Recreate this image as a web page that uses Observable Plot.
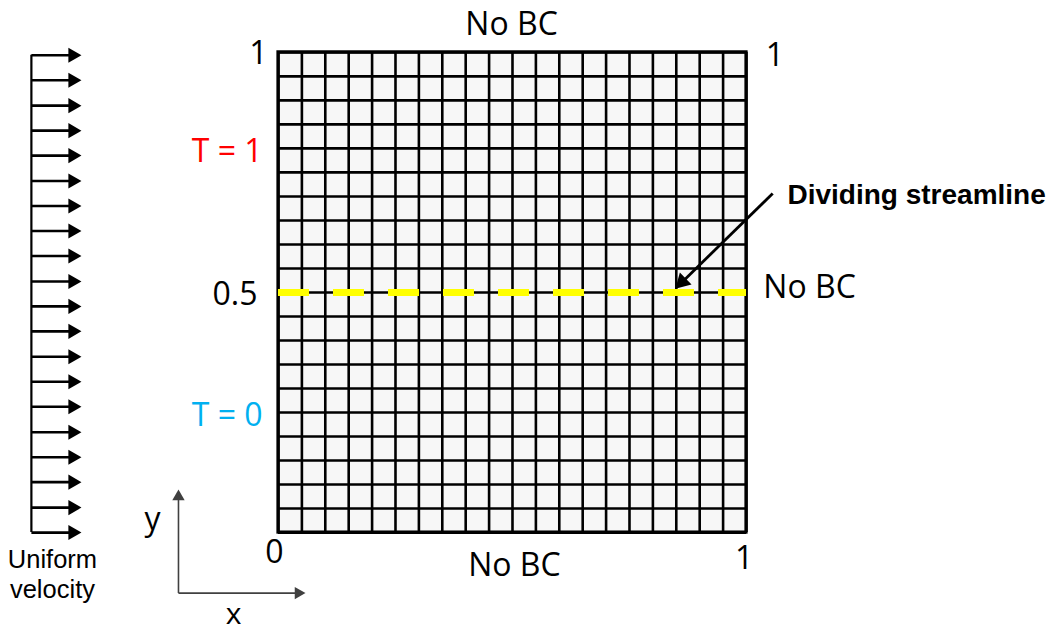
<!DOCTYPE html>
<html>
<head>
<meta charset="utf-8">
<script src="https://cdn.jsdelivr.net/npm/d3@7"></script>
<script src="https://cdn.jsdelivr.net/npm/@observablehq/plot@0.6"></script>
<style>
  html, body { margin: 0; padding: 0; background: #ffffff; overflow: hidden; }
  #chart svg { display: block; }
</style>
</head>
<body>
<div id="chart"></div>
<script>
// ---------- data ----------
const W = 1053, H = 631;
const xDomain = [-0.594, 1.656];
const yDomain = [-0.206, 1.108];

// 20 x 20 computational grid lines (fractions of the unit square)
const gridTicks = [0, 0.05, 0.1, 0.15, 0.2, 0.25, 0.3, 0.35, 0.4, 0.45, 0.5,
                   0.55, 0.6, 0.65, 0.7, 0.75, 0.8, 0.85, 0.9, 0.95, 1];
const domainBox = [{x1: 0, x2: 1, y1: 0, y2: 1}];
const streamlineY = [0.5];

// uniform inflow velocity arrows (y positions, x start / tip)
const velocityY = [0.994, 0.942, 0.889, 0.837, 0.785, 0.732, 0.680, 0.628, 0.576, 0.523,
                   0.471, 0.419, 0.366, 0.314, 0.262, 0.209, 0.157, 0.105, 0.052, 0.000];
const velocityX = [-0.528, -0.421];

// annotation arrow (start -> tip)
const calloutArrow = [{x1: 1.056, y1: 0.706, x2: 0.848, y2: 0.508}];
// coordinate axes arrows
const axisArrows = [
  {x1: -0.2137, y1: -0.126, x2: -0.2137, y2: 0.0896},
  {x1: -0.2137, y1: -0.126, x2: 0.0577, y2: -0.126}
];

// labels
const centerLabels = [
  {text: "No BC", x: 0.498, y: 1.0567},
  {text: "No BC", x: 0.504, y: -0.0683},
  {text: "0", x: -0.0085, y: -0.0412},
  {text: "1", x: 0.995, y: -0.0537},
  {text: "y", x: -0.269, y: 0.0275}
];
const axisXLabel = [{text: "x", x: -0.096, y: -0.1696}];
const startLabels = [
  {text: "No BC", x: 1.036, y: 0.5088},
  {text: "1", x: 1.041, y: 0.992}
];
const endLabels = [
  {text: "1", x: -0.0235, y: 0.9963, color: "#000000"},
  {text: "T = 1", x: -0.034, y: 0.794, color: "#ff0000"},
  {text: "0.5", x: -0.045, y: 0.496, color: "#000000"},
  {text: "T = 0", x: -0.034, y: 0.244, color: "#00b0f0"}
];
const velocityLabel = [
  {text: "Uniform", x: -0.483, y: -0.0569},
  {text: "velocity", x: -0.483, y: -0.1194}
];
const calloutLabel = [{text: "Dividing streamline", x: 1.0876, y: 0.7033}];

// ---------- helpers ----------
const kx = W / (xDomain[1] - xDomain[0]);
const ky = H / (yDomain[1] - yDomain[0]);
function headGeom(list, r) {
  const t = Math.sqrt(Math.PI * r * r / (3 * Math.sqrt(3)));
  const tip = 2 * t;
  return list.map(a => {
    const px = (a.x2 - a.x1) * kx, py = -(a.y2 - a.y1) * ky;
    const L = Math.hypot(px, py), ux = px / L, uy = py / L;
    return {
      ...a,
      cx: a.x2 - ux * tip / kx,
      cy: a.y2 + uy * tip / ky,
      angle: Math.atan2(py, px) * 180 / Math.PI + 90
    };
  });
}
function arrowMarks(list, {r, color, width}) {
  const g = headGeom(list, r);
  return [
    Plot.link(g, {x1: "x1", y1: "y1", x2: "cx", y2: "cy", stroke: color, strokeWidth: width}),
    Plot.dot(g, {x: "cx", y: "cy", symbol: "triangle", r, rotate: "angle", fill: color, stroke: null})
  ];
}
const velocityArrows = velocityY.map(y => ({x1: velocityX[0], y1: y, x2: velocityX[1], y2: y}));

const calibri = "'Open Sans', Lato, sans-serif";
const arial = "'Liberation Sans', Arial, sans-serif";

const chart = Plot.plot({
  width: W,
  height: H,
  margin: 0,
  x: {domain: xDomain, axis: null},
  y: {domain: yDomain, axis: null},
  style: {background: "#ffffff", overflow: "visible"},
  marks: [
    Plot.rect(domainBox, {x1: "x1", x2: "x2", y1: "y1", y2: "y2", fill: "#f7f7f7"}),
    Plot.ruleX(gridTicks, {y1: 0, y2: 1, stroke: "#000000", strokeWidth: 2.6}),
    Plot.ruleY(gridTicks, {x1: 0, x2: 1, stroke: "#000000", strokeWidth: 2.6}),
    Plot.rect(domainBox, {x1: "x1", x2: "x2", y1: "y1", y2: "y2", fill: "none", stroke: "#000000", strokeWidth: 3.2}),
    Plot.ruleY(streamlineY, {x1: 0, x2: 1, stroke: "#ffff00", strokeWidth: 7, strokeDasharray: "31 24"}),

    // inflow arrows
    Plot.ruleX([velocityX[0]], {y1: velocityY[velocityY.length - 1], y2: velocityY[0], stroke: "#000000", strokeWidth: 2.2}),
    ...arrowMarks(velocityArrows, {r: 5.6, color: "#000000", width: 2.6}),

    // callout arrow
    ...arrowMarks(calloutArrow, {r: 6.2, color: "#000000", width: 2.8}),

    // coordinate axes
    ...arrowMarks(axisArrows, {r: 4.6, color: "#404040", width: 1.6}),

    // labels
    Plot.text(centerLabels, {x: "x", y: "y", text: "text", textAnchor: "middle", fill: "#000000", fontSize: 32, fontFamily: calibri}),
    Plot.text(axisXLabel, {x: "x", y: "y", text: "text", textAnchor: "middle", fill: "#000000", fontSize: 30, fontFamily: calibri}),
    Plot.text(startLabels, {x: "x", y: "y", text: "text", textAnchor: "start", fill: "#000000", fontSize: 32, fontFamily: calibri}),
    Plot.text(endLabels, {x: "x", y: "y", text: "text", textAnchor: "end", fill: "color", fontSize: 32, fontFamily: calibri}),
    Plot.text(velocityLabel, {x: "x", y: "y", text: "text", textAnchor: "middle", fill: "#000000", fontSize: 25.5, fontFamily: arial}),
    Plot.text(calloutLabel, {x: "x", y: "y", text: "text", textAnchor: "start", fill: "#000000", fontSize: 28, fontWeight: "bold", fontFamily: arial})
  ]
});
document.getElementById("chart").appendChild(chart);
</script>
</body>
</html>
